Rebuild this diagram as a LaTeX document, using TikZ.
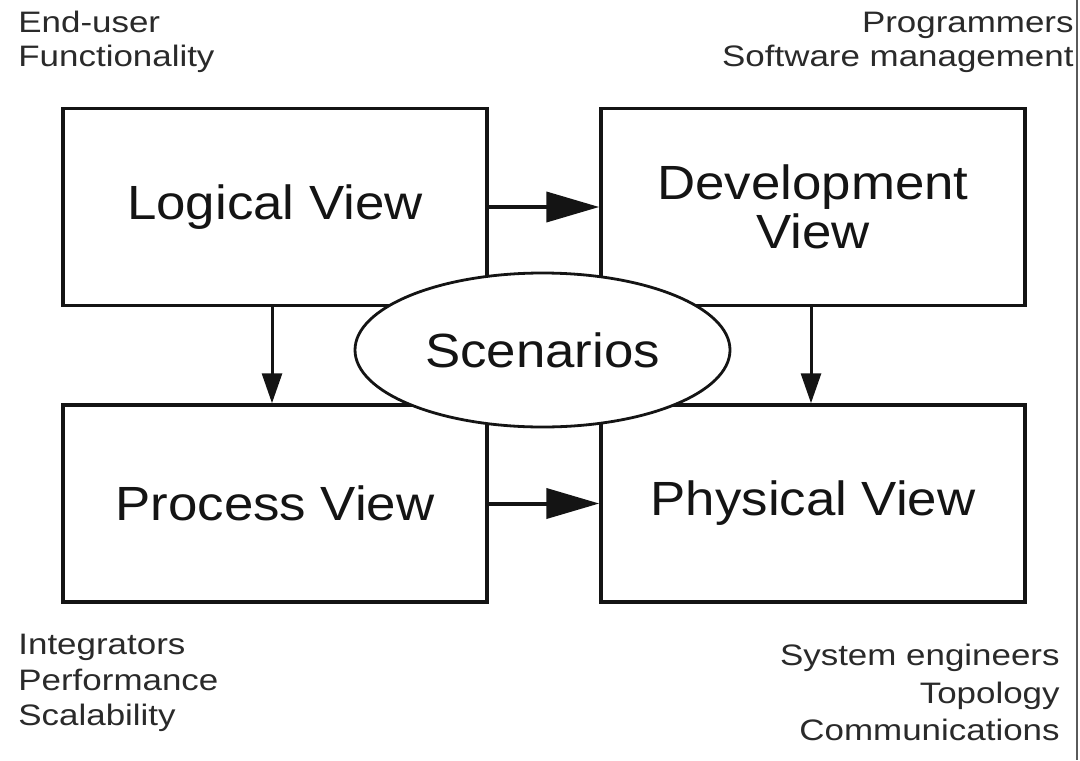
\documentclass[tikz,border=0pt]{standalone}
\usepackage{fontspec}
\setmainfont{Liberation Sans}
\newfontfamily\viewfont[FakeStretch=1.1]{Liberation Sans}
\newfontfamily\notefont[FakeStretch=1.18]{Liberation Sans}
\usetikzlibrary{arrows.meta,positioning,shapes.geometric}
\definecolor{Ink}{HTML}{141414}
\definecolor{Note}{HTML}{2A2A2A}
\definecolor{Frame}{HTML}{5A5A5A}
\tikzset{
  view/.style={draw=Ink,line width=1.75pt,minimum width=212pt,minimum height=98.5pt,align=center,text=Ink,font=\viewfont\fontsize{24}{24.5}\selectfont},
  scen/.style={draw=Ink,fill=white,ellipse,line width=1.4pt,minimum width=187.5pt,minimum height=77pt,inner sep=0pt,text=Ink,font=\viewfont\fontsize{24}{24.5}\selectfont},
  note/.style={inner sep=0pt,text=Note,font=\notefont\fontsize{14.8}{#1}\selectfont},
  note/.default=17pt,
  bigflow/.style={-{Triangle[length=26.5pt,width=15pt]},draw=Ink,line width=2pt},
  downflow/.style={-{Triangle[length=15pt,width=10pt]},draw=Ink,line width=1.5pt},
}
\begin{document}
\begin{tikzpicture}[x=.5pt,y=-.5pt]
  \fill[white] (0,0) rectangle (1080,760);
  \useasboundingbox (0,0) rectangle (1080,760);
  \draw[Frame,line width=1pt] (1077,0) -- (1077,760);
  % the four views
  \node[view] (logical) at (275,207) {Logical View};
  \node[view] (devel) at (813,207) {Development\\View};
  \node[view] (process) at (275,503.5) {Process View};
  \node[view] (physical) at (813,503.5) {Physical View};
  \draw[bigflow] (logical) -- (devel);
  \draw[bigflow] (process) -- (physical);
  \draw[downflow] ([xshift=-1.5pt]logical.south) -- ([xshift=-1.5pt]process.north);
  \draw[downflow] ([xshift=-1pt]devel.south) -- ([xshift=-1pt]physical.north);
  \node[scen] (scenarios) at (542.5,350) {Scenarios};
  % stakeholders and concerns
  \node[note=17pt,align=left,anchor=north west] (enduser) at (18,11) {End-user\\Functionality};
  \node[note=17pt,align=right,anchor=north east] (programmers) at (1074,12) {Programmers\\Software management};
  \node[note=17.75pt,align=left,anchor=north west] (integrators) at (18,634) {Integrators\\Performance\\Scalability};
  \node[note=18.75pt,align=right,anchor=north east] (engineers) at (1060,644) {System engineers\\Topology\\Communications};
\end{tikzpicture}
\end{document}
